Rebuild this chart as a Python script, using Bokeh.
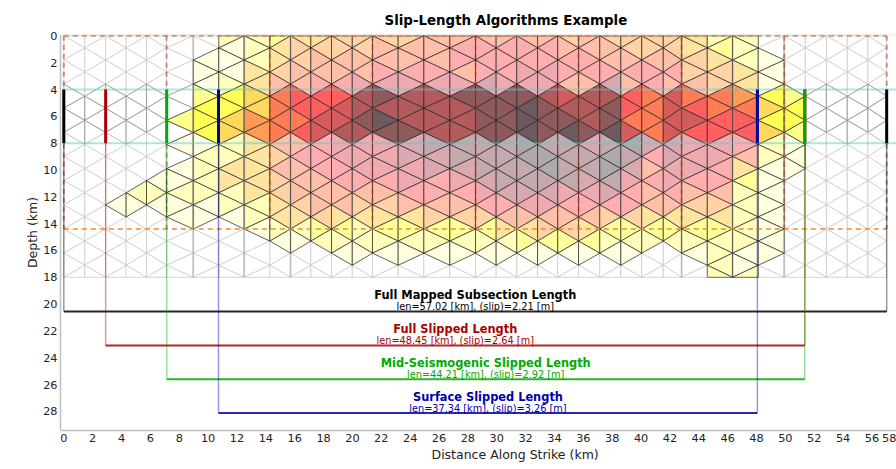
from bokeh.plotting import figure
from bokeh.embed import file_html
from bokeh.resources import INLINE
from bokeh.models import Title, FixedTicker, ColumnDataSource
from bokeh.core.properties import value

COL_X = [0, 1.455, 2.89, 4.32, 5.73, 7.12, 8.97, 10.74, 12.50, 14.28, 15.71, 17.12, 18.55, 19.99, 21.39,
         23.17, 24.95, 26.75, 28.53, 29.96, 31.39, 32.83, 34.23, 35.67, 37.14, 38.6, 40.05, 41.54, 42.81,
         44.59, 46.34, 48.12, 49.92, 51.38, 52.84, 54.29, 55.72, 57.02]
ROW_KM = 0.9
MAX_DEPTH = 18.0
SECTIONS_X = [0, 7.12, 14.28, 21.39, 28.53, 35.67, 42.81, 49.92, 57.02]
HEAVY_COLS = [6, 8, 10, 28, 30, 32]
SEIS_DEPTHS = [4, 8]
SECTION_DEPTH = 14.4

# slip level per triangle: {interval: {first_k: [levels...]}}; k runs -1..19 down-dip
SLIP = {
    2: {13: [1]},
    3: {12: [2, 1]},
    4: {11: [1, 2, 1]},
    5: {6: [2, 0, 1, 0, 1, 1, 2, 1, 1]},
    6: {1: [1, 1, 1, 2, 3, 3, 3, 1, 2, 2, 2, 2, 1, 1]},
    7: {-1: [2, 1, 1, 1, 2, 3, 3, 4, 4, 2, 2, 4, 4, 2, 2, 1]},
    8: {-1: [2, 2, 2, 4, 4, 4, 4, 5, 5, 4, 4, 4, 4, 4, 2, 2, 1]},
    9: {-1: [3, 4, 4, 5, 6, 6, 6, 6, 6, 6, 5, 6, 5, 5, 4, 4, 2, 1]},
    10: {-1: [4, 5, 5, 6, 6, 7, 7, 6, 7, 6, 7, 6, 6, 6, 5, 4, 2, 1]},
    11: {-1: [4, 5, 6, 6, 7, 7, 7, 8, 8, 7, 7, 7, 6, 6, 6, 5, 3, 2]},
    12: {-1: [5, 5, 6, 6, 7, 7, 8, 8, 9, 8, 8, 7, 7, 6, 6, 4, 3, 2, 1]},
    13: {-1: [5, 5, 6, 6, 8, 9, 9, 10, 9, 8, 8, 8, 7, 6, 5, 4, 2, 2, 1]},
    14: {-1: [5, 6, 6, 7, 8, 10, 9, 11, 10, 8, 8, 8, 7, 6, 5, 4, 3, 2, 1]},
    15: {-1: [5, 6, 6, 7, 8, 9, 9, 9, 10, 9, 9, 8, 8, 7, 6, 4, 3, 2, 1]},
    16: {-1: [6, 6, 6, 7, 8, 9, 9, 9, 9, 10, 9, 9, 7, 7, 6, 5, 3, 2, 1]},
    17: {-1: [6, 7, 7, 6, 8, 10, 9, 9, 9, 10, 10, 9, 8, 7, 6, 5, 3, 2, 1]},
    18: {-1: [6, 7, 7, 7, 9, 10, 10, 10, 10, 10, 10, 10, 9, 8, 7, 5, 3, 2, 1]},
    19: {-1: [6, 7, 7, 7, 8, 10, 10, 10, 10, 10, 10, 10, 10, 9, 7, 6, 4, 2, 1]},
    20: {-1: [6, 7, 7, 8, 8, 10, 11, 11, 11, 11, 11, 10, 10, 9, 8, 6, 4, 3, 1]},
    21: {-1: [6, 7, 7, 8, 8, 9, 10, 10, 10, 10, 11, 11, 10, 9, 8, 6, 5, 3, 1]},
    22: {-1: [5, 6, 7, 7, 6, 8, 9, 10, 11, 10, 10, 10, 10, 8, 7, 6, 5, 3, 1]},
    23: {-1: [6, 6, 7, 7, 6, 9, 9, 9, 10, 9, 10, 10, 9, 8, 7, 6, 4, 3, 1]},
    24: {-1: [5, 6, 6, 7, 9, 9, 10, 10, 11, 10, 11, 11, 10, 9, 7, 5, 3, 2, 1]},
    25: {-1: [5, 5, 6, 7, 6, 7, 7, 6, 8, 11, 10, 9, 8, 7, 7, 5, 3, 2, 1]},
    26: {-1: [5, 5, 6, 7, 7, 6, 6, 6, 6, 9, 7, 6, 7, 6, 6, 4, 3, 2]},
    27: {-1: [5, 5, 6, 7, 6, 8, 8, 8, 8, 9, 9, 8, 8, 7, 6, 4, 3, 2]},
    28: {-1: [4, 4, 5, 5, 6, 6, 7, 8, 7, 8, 8, 8, 7, 6, 5, 4, 3, 2, 1]},
    29: {-1: [2, 3, 4, 5, 5, 6, 6, 7, 7, 8, 8, 7, 7, 6, 5, 4, 3, 2, 2, 2, 2]},
    30: {-1: [2, 2, 2, 4, 4, 5, 6, 7, 7, 7, 6, 4, 3, 2, 2, 2, 2, 2, 1, 1, 2]},
    31: {1: [1, 1, 1, 3, 4, 3, 4, 2, 2, 1, 1, 1, 1, 1, 1, 1, 1]},
    32: {4: [2, 3, 3, 2, 1, 1, 1]},
}
# colour of each slip level, outside and inside the 4-8 km band
PALETTE_OUT = ["#ffffff", "#ffffe0", "#ffffbb", "#ffff99", "#ffe4a0", "#ffd3a6", "#ffbfa8",
               "#ffaeb0", "#eeaab0", "#d8a9b0", "#c4a9ae", "#aeaaac"]
PALETTE_IN = ["#ffffff", "#ffffb8", "#ffff90", "#ffff55", "#ffd85c", "#ff9b55", "#ff7c55",
              "#ff5f5f", "#d45c5c", "#b25a5c", "#8e5a5c", "#6c5a5e"]

TITLES = ["Full Mapped Subsection Length", "Full Slipped Length", "Mid-Seismogenic Slipped Length",
          "Surface Slipped Length"]
SUBTITLES = ["len=57.02 [km], (slip)=2.21 [m]", "len=48.45 [km], (slip)=2.64 [m]",
             "len=44.21 [km], (slip)=2.92 [m]", "len=37.34 [km], (slip)=3.26 [m]"]
COLORS = ["#000000", "#aa0000", "#00aa00", "#0000aa"]
LEFTS = [0.0, 2.9, 7.13, 10.72]
RIGHTS = [57.02, 51.35, 51.34, 48.06]
BRACKET_DEPTHS = [20.55, 23.08, 25.6, 28.12]

X_TICKS = list(range(0, 58, 2))
LAST_TICK_POS = 57.2
LAST_TICK_TEXT = "58"
Y_TICKS = list(range(0, 30, 2))
FONT = "DejaVu Sans"

X0, X1 = -0.229, 57.7
p = figure(width=896, height=469, output_backend="svg", toolbar_location=None,
           x_range=(X0, X1), y_range=(29.42, -0.1),
           min_border_left=60, min_border_right=0, min_border_top=34, min_border_bottom=39)
p.grid.visible = False
p.outline_line_color = None


def tri(interval, k):
    base_col = interval if (interval % 2 == 0) == (k % 2 == 0) else interval + 1
    apex_col = interval + interval + 1 - base_col
    top = max(k * ROW_KM, 0)
    bot = min((k + 2) * ROW_KM, MAX_DEPTH)
    return [COL_X[base_col], COL_X[base_col], COL_X[apex_col]], [top, bot, (k + 1) * ROW_KM]


zeros, colored = [], []
for i in range(len(COL_X) - 1):
    levels = {}
    for first, vals in SLIP.get(i, {}).items():
        for j, v in enumerate(vals):
            levels[first + j] = v
    for k in range(-1, 20):
        v = levels.get(k, 0)
        xs, ys = tri(i, k)
        band = 4 <= k <= 7
        (colored if v else zeros).append((xs, ys, (PALETTE_IN if band else PALETTE_OUT)[v], band))

for group, is_zero in ((zeros, True), (colored, False)):
    src = ColumnDataSource(dict(
        xs=[g[0] for g in group], ys=[g[1] for g in group], fill=[g[2] for g in group],
        line=[("#8f8f8f" if g[3] else "#cccccc") if is_zero else "#202020" for g in group]))
    p.patches("xs", "ys", source=src, fill_color="fill", line_color="line",
              line_width=0.8, line_alpha=1.0 if is_zero else 0.85)

for c in HEAVY_COLS:
    p.line([COL_X[c]] * 2, [0, MAX_DEPTH], line_color="#808080", line_width=2, line_alpha=0.3)

# section outlines
p.line([0, 57.02], [0, 0], line_color="#c8763a", line_width=2, line_dash="5 4", line_alpha=0.8)
p.line([0, 57.02], [SECTION_DEPTH] * 2, line_color="#ee8a2e", line_width=2, line_dash="5 4", line_alpha=0.75)
for sx in SECTIONS_X:
    p.line([sx, sx], [0, SECTION_DEPTH], line_color="#b8401a", line_width=2, line_dash="5 4", line_alpha=0.55)

# seismogenic band limits
for d in SEIS_DEPTHS:
    p.line([0, X1], [d, d], line_color="#66c8c8", line_width=2, line_alpha=0.5)

# length brackets
for c, l, r, d in zip(COLORS, LEFTS, RIGHTS, BRACKET_DEPTHS):
    for x in (l, r):
        p.line([x, x], [8, d], line_color=c, line_width=1.5, line_alpha=0.4)
    p.line([l, r], [d, d], line_color=c, line_width=2, line_alpha=0.85)
for c, l, r in zip(COLORS, LEFTS, RIGHTS):
    for x in (l, r):
        p.line([x, x], [SEIS_DEPTHS[0], SEIS_DEPTHS[1]], line_color=c, line_width=3)

for t, s, c, l, r, d in zip(TITLES, SUBTITLES, COLORS, LEFTS, RIGHTS, BRACKET_DEPTHS):
    m = (l + r) / 2
    p.text([m], [d - 1.22], text=[t], text_color=c, text_font=value(FONT), text_font_size="11.4px",
           text_font_style="bold", text_align="center", text_baseline="middle")
    p.text([m], [d - 0.37], text=[s], text_color=c, text_font=value(FONT), text_font_size="9.75px",
           text_align="center", text_baseline="middle")

for ax, ticks in ((p.xaxis[0], X_TICKS + [LAST_TICK_POS]), (p.yaxis[0], Y_TICKS)):
    ax.ticker = FixedTicker(ticks=ticks)
    ax.axis_line_color = "#bfbfbf"
    ax.axis_line_width = 1.5
    ax.major_tick_line_color = None
    ax.minor_tick_line_color = None
    ax.major_tick_in = 0
    ax.major_tick_out = 0
    ax.minor_tick_in = 0
    ax.minor_tick_out = 0
    ax.major_label_text_font = FONT
    ax.major_label_text_font_size = "11.3px"
    ax.major_label_text_color = "#222222"
    ax.axis_label_text_font = FONT
    ax.axis_label_text_font_size = "12.5px"
    ax.axis_label_text_font_style = "normal"
    ax.axis_label_text_color = "#222222"
    ax.major_label_standoff = 3
    ax.axis_label_standoff = 0
p.xaxis[0].major_label_overrides = {LAST_TICK_POS: LAST_TICK_TEXT}
p.yaxis[0].axis_label = "Depth (km)"
p.line([X0, X1], [-0.1, -0.1], line_color="#dddddd", line_width=1.5)

p.add_layout(Title(text="Slip-Length Algorithms Example", text_font=FONT, text_font_size="13.4px",
                   text_font_style="bold", text_color="#000000", align="left", offset=324, standoff=13), "above")
p.add_layout(Title(text="Distance Along Strike (km)", text_font=FONT, text_font_size="12.5px",
                   text_font_style="normal", text_color="#222222", align="left", offset=371, standoff=0), "below")

open("out.html", "w").write(file_html(p, INLINE))
